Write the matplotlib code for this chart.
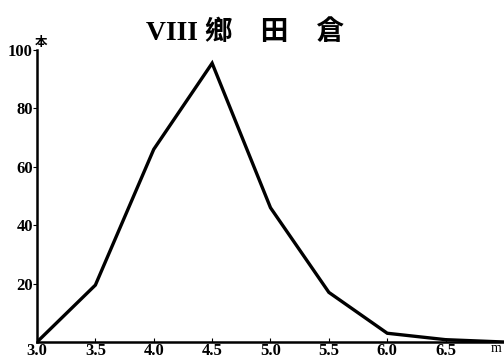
import matplotlib.pyplot as plt

x = [3.0, 3.5, 4.0, 4.5, 5.0, 5.5, 6.0, 6.5, 7.0]
y = [0, 19.5, 66, 95.5, 46, 17, 3, 0.8, 0]
xticks = [3.0, 3.5, 4.0, 4.5, 5.0, 5.5, 6.0, 6.5]
yticks = [20, 40, 60, 80, 100]

serif = ['Liberation Serif', 'DejaVu Serif']
cjk = ['Liberation Serif', 'Noto Sans CJK JP']

fig = plt.figure(figsize=(5.04, 3.61), dpi=100)
ax = fig.add_axes([0.0734, 0.0526, 0.9266, 0.8087])
ax.plot(x, y, color='black', linewidth=2.4, solid_joinstyle='miter')
ax.set_xlim(3.0, 7.0)
ax.set_ylim(0, 100)
ax.spines['top'].set_visible(False)
ax.spines['right'].set_visible(False)
ax.spines['left'].set_linewidth(1.8)
ax.spines['bottom'].set_linewidth(1.8)
ax.set_xticks(xticks)
ax.set_xticklabels([f'{v:.1f}' for v in xticks], fontfamily=serif, fontweight='bold', fontsize=12)
ax.set_yticks(yticks)
ax.set_yticklabels([str(v) for v in yticks], fontfamily=serif, fontweight='bold', fontsize=12)
ax.tick_params(axis='x', direction='in', length=3, pad=1)
ax.tick_params(axis='y', direction='out', length=3, pad=0)

fig.text(0.082, 0.872, '本', family='Noto Sans CJK JP', fontweight='bold', fontsize=9, ha='center')
fig.text(0.985, 0.025, 'm', family=serif, fontsize=10, ha='center')
fig.text(0.487, 0.888, 'VIII 鄉    田    倉', family=cjk, fontweight='bold', fontsize=20, ha='center')

fig.savefig('out.png', dpi=100)
